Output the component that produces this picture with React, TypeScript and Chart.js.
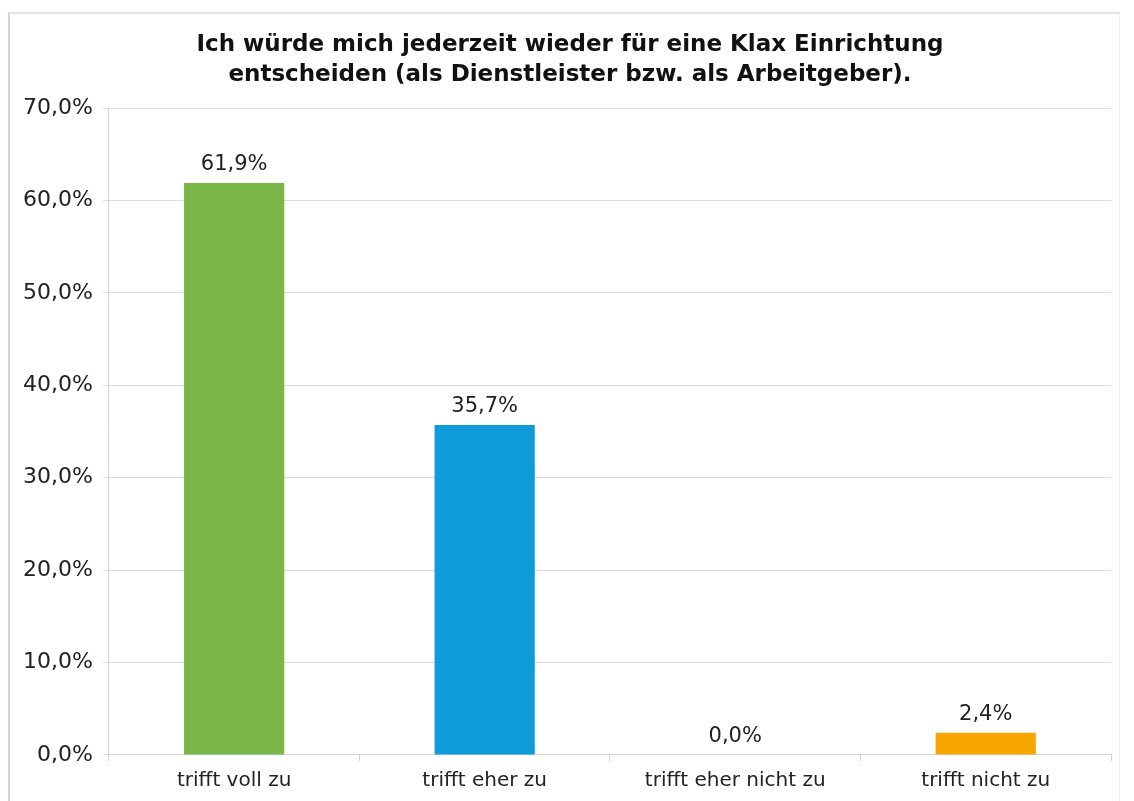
import React, { useEffect, useRef } from "react";
import { Chart, registerables } from "chart.js";

Chart.register(...registerables);

const categories = ["trifft voll zu", "trifft eher zu", "trifft eher nicht zu", "trifft nicht zu"];
const values = [61.9, 35.7, 0.0, 2.4];
const barColors = ["#7ab648", "#0f9ad8", "#0f9ad8", "#f7a600"];
const titleLines = [
  "Ich würde mich jederzeit wieder für eine Klax Einrichtung",
  "entscheiden (als Dienstleister bzw. als Arbeitgeber).",
];
const yMin = 0;
const yMax = 70;
const yStep = 10;

const fmt = (v: number) => v.toFixed(1).replace(".", ",") + "%";

const labelPlugin = {
  id: "barLabels",
  afterDatasetsDraw(chart: any) {
    const ctx = chart.ctx;
    const meta = chart.getDatasetMeta(0);
    ctx.save();
    ctx.font = "21px 'DejaVu Sans'";
    ctx.fillStyle = "#222";
    ctx.textAlign = "center";
    ctx.textBaseline = "bottom";
    meta.data.forEach((el: any, i: number) => {
      ctx.fillText(fmt(values[i]), el.x, el.y - 8);
    });
    ctx.restore();
  },
};

const titlePlugin = {
  id: "centeredTitle",
  afterDraw(chart: any) {
    const ctx = chart.ctx;
    ctx.save();
    ctx.font = "bold 23px 'DejaVu Sans'";
    ctx.fillStyle = "#111";
    ctx.textAlign = "center";
    ctx.textBaseline = "middle";
    titleLines.forEach((line, i) => {
      ctx.fillText(line, 570, 45 + i * 30);
    });
    ctx.restore();
  },
};

export default function App() {
  const ref = useRef<HTMLCanvasElement | null>(null);
  useEffect(() => {
    if (!ref.current) return;
    const chart = new Chart(ref.current, {
      type: "bar",
      data: {
        labels: categories,
        datasets: [
          {
            data: values,
            backgroundColor: barColors,
            categoryPercentage: 1,
            barPercentage: 0.4,
          },
        ],
      },
      plugins: [labelPlugin, titlePlugin],
      options: {
        animation: false,
        responsive: false,
        layout: { padding: { top: 15, left: 13, right: 23, bottom: 0 } },
        plugins: {
          legend: { display: false },
          tooltip: { enabled: false },
          title: {
            display: true,
            text: titleLines,
            color: "rgba(0,0,0,0)",
            font: { family: "'DejaVu Sans'", size: 22, weight: "bold", lineHeight: 1.364 },
            padding: { top: 15, bottom: 18 },
          },
        },
        scales: {
          x: {
            grid: { display: true, drawOnChartArea: false, offset: true, tickLength: 6, color: "#d4d4de" },
            border: { color: "#d4d4de" },
            ticks: { color: "#222", font: { family: "'DejaVu Sans'", size: 20 }, padding: 8 },
          },
          y: {
            min: yMin,
            max: yMax,
            ticks: {
              stepSize: yStep,
              color: "#222",
              font: { family: "'DejaVu Sans'", size: 22 },
              padding: 10,
              callback: (v: any) => fmt(Number(v)),
            },
            grid: { color: "#dcdce6", tickLength: 6 },
            border: { color: "#d4d4de" },
          },
        },
      },
    });
    return () => chart.destroy();
  }, []);
  return (
    <div style={{ position: "fixed", left: 0, top: 0, width: 1134, height: 801, background: "#fff" }}>
      <div
        style={{
          position: "absolute",
          left: 8,
          top: 12,
          width: 1112,
          height: 800,
          borderLeft: "2px solid #d2d2da",
          borderTop: "2px solid #e2e2ea",
          borderRight: "1px solid #ececf2",
          boxSizing: "border-box",
        }}
      />
      <canvas ref={ref} width={1134} height={801} style={{ position: "absolute", left: 0, top: 0 }} />
    </div>
  );
}
